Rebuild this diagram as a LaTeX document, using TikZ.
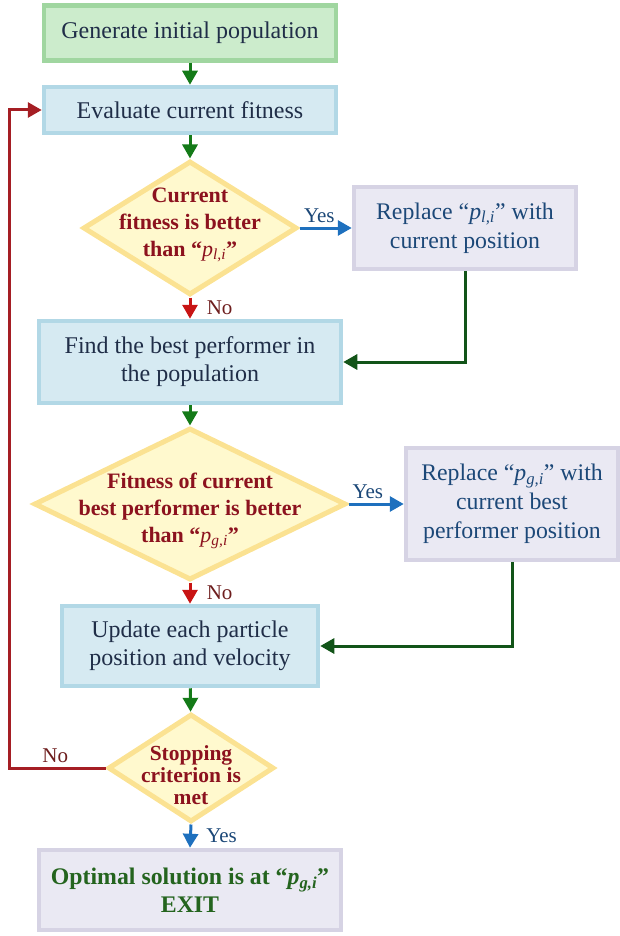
\documentclass[tikz,border=0pt]{standalone}
\usepackage{fontspec}
\setmainfont{Liberation Serif}
\usetikzlibrary{shapes.geometric,arrows.meta}

\definecolor{startfill}{RGB}{204,236,204}
\definecolor{startline}{RGB}{160,214,160}
\definecolor{procfill}{RGB}{214,234,242}
\definecolor{procline}{RGB}{178,216,230}
\definecolor{replfill}{RGB}{234,233,243}
\definecolor{replline}{RGB}{214,211,228}
\definecolor{decfill}{RGB}{255,249,206}
\definecolor{decline}{RGB}{251,226,146}
\definecolor{textdark}{RGB}{32,46,72}
\definecolor{textblue}{RGB}{28,72,120}
\definecolor{textred}{RGB}{140,18,30}
\definecolor{textbrown}{RGB}{110,30,30}
\definecolor{textgreen}{RGB}{36,100,30}
\definecolor{arrgreen}{RGB}{20,122,24}
\definecolor{arrred}{RGB}{200,20,20}
\definecolor{arrblue}{RGB}{30,112,190}
\definecolor{linkgreen}{RGB}{18,84,24}
\definecolor{loopred}{RGB}{165,30,36}

\newcommand{\pidx}[1]{\textit{\mdseries p}\textsubscript{\textit{\mdseries #1}}}

\tikzset{
  box/.style={rectangle, line width=4.5pt, align=center, inner sep=0pt,
    font=\fontsize{24}{28}\selectfont},
  startbox/.style={box, draw=startline, fill=startfill, text=textdark},
  procbox/.style={box, draw=procline, fill=procfill, text=textdark},
  replbox/.style={box, draw=replline, fill=replfill, text=textblue,
    font=\fontsize{23.8}{29}\selectfont},
  decbox/.style={diamond, draw=decline, fill=decfill, line width=5pt, inner sep=0pt},
  dectext/.style={align=center, text=textred, inner sep=0pt,
    font=\bfseries\fontsize{22}{27}\selectfont},
  flow/.style={line width=3pt, -{Triangle[length=14pt,width=15pt]}},
  yeslabel/.style={text=textblue, font=\fontsize{21}{24}\selectfont},
  nolabel/.style={text=textbrown, font=\fontsize{21}{24}\selectfont}
}

\begin{document}
\begin{tikzpicture}[x=1pt,y=-1pt]
    \useasboundingbox (0,0) rectangle (619,936);
    % Main column
    \node[startbox, minimum width=292, minimum height=55] (start) at (190,33) {Generate initial population};
    \node[procbox, minimum width=292, minimum height=46] (eval) at (190,110) {Evaluate current fitness};
    \node[decbox, minimum width=214, minimum height=134] (dlocal) at (190,228) {};
    \node[dectext] (dlocaltext) at (190,225) {Current\\fitness is better\\than ``\pidx{l,i}''};
    \node[procbox, minimum width=302, minimum height=82] (find) at (190,362) {Find the best performer in\\the population};
    \node[decbox, minimum width=312, minimum height=152] (dglobal) at (190,504) {};
    \node[dectext] (dglobaltext) at (190,511) {Fitness of current\\best performer is better\\than ``\pidx{g,i}''};
    \node[procbox, minimum width=256, minimum height=80] (update) at (190,646) {Update each particle\\position and velocity};
    \node[decbox, minimum width=166, minimum height=108] (dstop) at (191,768) {};
    \node[dectext, font=\bfseries\fontsize{21.5}{22}\selectfont] (dstoptext) at (191,775) {Stopping\\criterion is\\met};
    \node[replbox, minimum width=302, minimum height=80, text=textgreen,
      font=\bfseries\fontsize{23.8}{28}\selectfont] (exit) at (190,890) {Optimal solution is at ``\textit{p}\textsubscript{\textit{g,i}}''\\EXIT};
    % Side boxes
    \node[replbox, minimum width=222, minimum height=82] (repllocal) at (465,228) {Replace ``\pidx{l,i}'' with\\current position};
    \node[replbox, minimum width=212, minimum height=112] (replglobal) at (512,504) {Replace ``\pidx{g,i}'' with\\current best\\performer position};
    % Connectors
    \draw[flow, arrgreen] (start) -- (eval);
    \draw[flow, arrgreen] (eval) -- (dlocal);
    \draw[flow, arrblue] (dlocal.east) -- node[yeslabel, above, pos=0.38] (yeslocal) {Yes} (repllocal.west);
    \draw[flow, arrred] (dlocal.south) -- node[nolabel, right, xshift=12pt] (nolocal) {No} (find.north);
    \draw[flow, linkgreen] (repllocal.south) |- (find.east);
    \draw[flow, arrgreen] (find) -- (dglobal);
    \draw[flow, arrblue] (dglobal.east) -- node[yeslabel, above, pos=0.35] (yesglobal) {Yes} (replglobal.west);
    \draw[flow, arrred] (dglobal.south) -- node[nolabel, right, xshift=12pt] (noglobal) {No} (update.north);
    \draw[flow, linkgreen] (replglobal.south) |- (update.east);
    \draw[flow, arrgreen] (update) -- (dstop);
    \draw[flow, arrblue] (dstop.south) -- node[yeslabel, right, xshift=11pt] (yesstop) {Yes} (exit.north);
    % Loop back
    \coordinate (loop) at (9,768);
    \draw[flow, loopred] (dstop.west) -- node[nolabel, above, pos=0.52] (nostop) {No} (loop) |- (eval.west);
\end{tikzpicture}
\end{document}
